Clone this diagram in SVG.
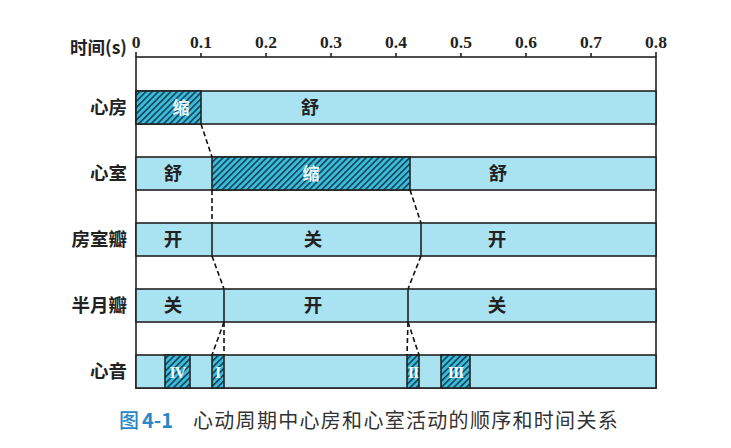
<svg xmlns="http://www.w3.org/2000/svg" width="731" height="448" viewBox="0 0 731 448">
<defs>
<pattern id="hatch" width="4.4" height="4.4" patternUnits="userSpaceOnUse" patternTransform="rotate(45)">
<rect width="4.4" height="4.4" fill="#34bfe2"/>
<line x1="0.8" y1="0" x2="0.8" y2="4.4" stroke="#1b2a33" stroke-width="1.4"/>
</pattern>
<style>
.bar{fill:#a9e3f1;stroke:#222;stroke-width:1.6}
.hat{fill:url(#hatch);stroke:#222;stroke-width:1.6}
.ln{stroke:#222;stroke-width:1.6;fill:none}
.dash{stroke:#111;stroke-width:1.6;fill:none;stroke-dasharray:5 3}
.tick{font-family:"Liberation Serif",serif;font-weight:bold;font-size:17.5px;fill:#222;text-anchor:middle}
.rl{font-family:"Noto Sans CJK SC",sans-serif;font-weight:bold;font-size:18.5px;fill:#222;text-anchor:end}
.bt{font-family:"Noto Sans CJK SC",sans-serif;font-weight:bold;font-size:18.5px;fill:#222;text-anchor:middle}
.wt{font-family:"Noto Sans CJK SC",sans-serif;font-weight:bold;font-size:17px;fill:#eef8fb;text-anchor:middle}
.rn{font-family:"Liberation Serif",serif;font-weight:bold;font-size:16px;fill:#f4fbfd;text-anchor:middle}
</style>
</defs>
<rect width="731" height="448" fill="#fff"/>

<g id="axis">
<rect x="136" y="57" width="520" height="331" fill="#fff" class="ln"/>
<path class="ln" d="M136 52V57M201 53V57M266 53V57M331 53V57M396 53V57M461 53V57M526 53V57M591 53V57M656 52V57"/>
<text class="tick" x="136" y="48">0</text>
<text class="tick" x="201" y="48">0.1</text>
<text class="tick" x="266" y="48">0.2</text>
<text class="tick" x="331" y="48">0.3</text>
<text class="tick" x="396" y="48">0.4</text>
<text class="tick" x="461" y="48">0.5</text>
<text class="tick" x="526" y="48">0.6</text>
<text class="tick" x="591" y="48">0.7</text>
<text class="tick" x="656" y="48">0.8</text>
<text class="rl" x="127" y="54" style="font-size:17.5px">时间(s)</text>
</g>

<g id="atrium">
<rect class="bar" x="136" y="91" width="520" height="33"/>
<rect class="hat" x="136" y="91" width="65" height="33"/>
<text class="wt" x="181" y="114">缩</text>
<text class="bt" x="310" y="114">舒</text>
<text class="rl" x="127" y="114">心房</text>
</g>

<g id="ventricle">
<rect class="bar" x="136" y="157" width="520" height="33"/>
<rect class="hat" x="212" y="157" width="198" height="33"/>
<text class="bt" x="173" y="180">舒</text>
<text class="wt" x="311" y="180">缩</text>
<text class="bt" x="498" y="180">舒</text>
<text class="rl" x="127" y="180">心室</text>
</g>

<g id="av-valve">
<rect class="bar" x="136" y="223" width="520" height="33"/>
<path class="ln" d="M212 223V256M421 223V256"/>
<text class="bt" x="173" y="246">开</text>
<text class="bt" x="313" y="246">关</text>
<text class="bt" x="497" y="246">开</text>
<text class="rl" x="127" y="246">房室瓣</text>
</g>

<g id="semilunar-valve">
<rect class="bar" x="136" y="289" width="520" height="33"/>
<path class="ln" d="M224 289V322M408 289V322"/>
<text class="bt" x="173" y="312">关</text>
<text class="bt" x="313" y="312">开</text>
<text class="bt" x="497" y="312">关</text>
<text class="rl" x="127" y="312">半月瓣</text>
</g>

<g id="heart-sounds">
<rect class="bar" x="136" y="355" width="520" height="33"/>
<rect class="hat" x="165" y="355" width="25" height="33"/>
<rect class="hat" x="212" y="355" width="12" height="33"/>
<rect class="hat" x="407" y="355" width="12" height="33"/>
<rect class="hat" x="441" y="355" width="29" height="33"/>
<text class="rn" x="177.5" y="378" letter-spacing="-1">IV</text>
<text class="rn" x="218" y="378">I</text>
<text class="rn" x="413" y="378" letter-spacing="-1">II</text>
<text class="rn" x="455.5" y="378" letter-spacing="-1">III</text>
<text class="rl" x="127" y="378">心音</text>
</g>

<g id="connectors">
<path class="dash" d="M201 124L212 157"/>
<path class="dash" d="M212 190V223"/>
<path class="dash" d="M212 256L224 289"/>
<path class="dash" d="M224 322L212 355"/>
<path class="dash" d="M224 322V355"/>
<path class="dash" d="M410 190L421 223"/>
<path class="dash" d="M421 256L408 289"/>
<path class="dash" d="M408 322L407 355"/>
<path class="dash" d="M408 322L419 355"/>
</g>

<g id="caption">
<text x="119" y="428" style="font-family:'Noto Sans CJK SC',sans-serif;font-size:20px;fill:#2b86c8;font-weight:500">图<tspan dx="3" font-weight="bold">4-1</tspan></text>
<text x="193" y="428" style="font-family:'Noto Sans CJK SC',sans-serif;font-size:20px;fill:#333;letter-spacing:1.3px">心动周期中心房和心室活动的顺序和时间关系</text>
</g>
</svg>
